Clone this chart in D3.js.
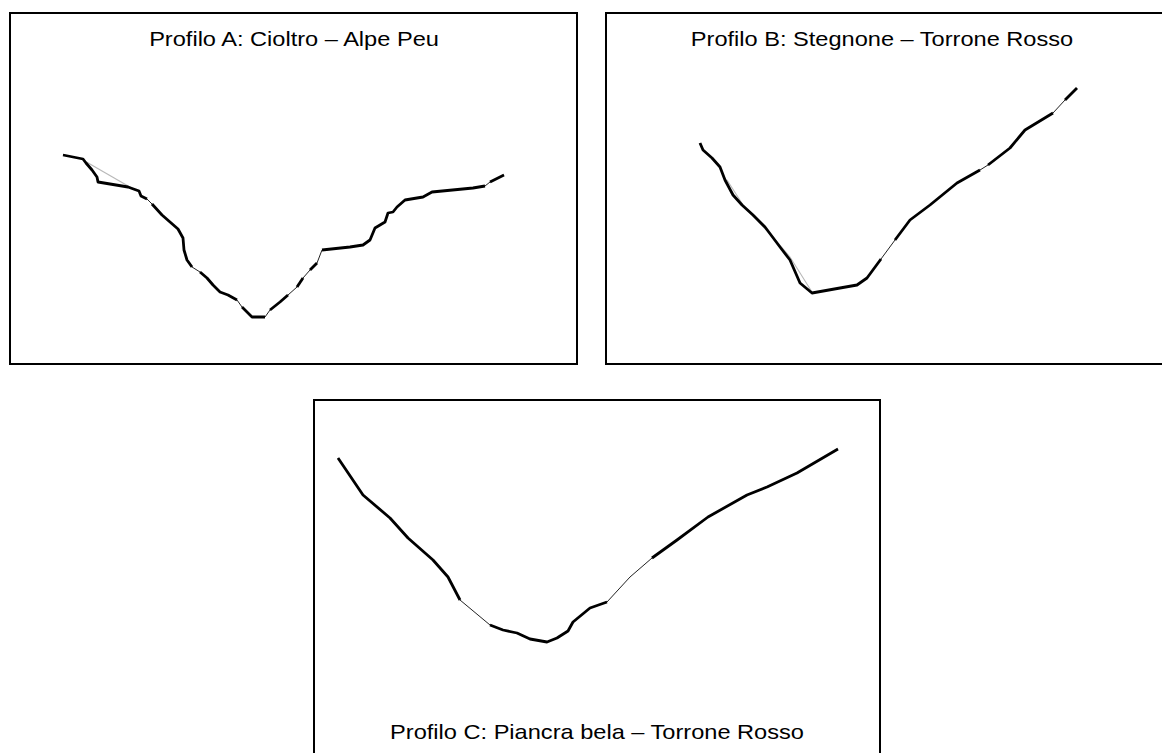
<!DOCTYPE html>
<html>
<head>
<meta charset="utf-8">
<script src="https://cdn.jsdelivr.net/npm/d3@7"></script>
<style>
  html, body { margin: 0; padding: 0; background: #fff; }
  svg { display: block; }
  text { font-family: "Liberation Sans", Arial, sans-serif; }
</style>
</head>
<body>
<svg id="chart" width="1162" height="753"></svg>
<script>
// Cross-valley topographic profiles: [distance (m), elevation (m)]
const titles = [
  "Profilo A: Cioltro – Alpe Peu",
  "Profilo B: Stegnone – Torrone Rosso",
  "Profilo C: Piancra bela – Torrone Rosso"
];

const profileA = [
  [0,1900],[100,1880],[115,1860],[145,1825],[170,1790],[175,1765],[325,1740],[380,1720],
  [390,1695],[420,1680],[445,1655],[495,1600],[535,1565],[575,1530],[600,1485],[605,1425],
  [620,1375],[645,1340],[685,1315],[720,1285],[750,1250],[785,1215],[825,1200],[870,1175],
  [895,1140],[945,1090],[1010,1090],[1035,1125],[1085,1165],[1125,1200],[1170,1240],[1200,1285],
  [1235,1325],[1270,1360],[1295,1425],[1435,1440],[1500,1450],[1535,1475],[1560,1535],[1585,1550],
  [1610,1565],[1625,1610],[1650,1615],[1670,1640],[1710,1675],[1800,1690],[1845,1715],[2050,1735],
  [2110,1745],[2135,1765],[2205,1800]
];
const rockA = [[0,420],[445,645],[685,870],[895,1010],[1035,1125],[1170,1200],[1235,1270],[1295,2110],[2135,2205]];
const guideA = [[100,1875],[230,1800],[360,1725]];

const profileB = [
  [0,2125],[15,2090],[60,2050],[100,2005],[125,1940],[165,1865],[210,1815],[265,1765],
  [325,1705],[400,1605],[450,1540],[500,1425],[560,1375],[700,1400],[785,1415],[835,1450],
  [905,1545],[975,1640],[1050,1740],[1150,1815],[1285,1925],[1400,1990],[1440,2015],[1550,2100],
  [1625,2190],[1765,2275],[1825,2340],[1885,2400]
];
const rockB = [[0,905],[975,1400],[1440,1765],[1825,1885]];
const guideB = [[135,1940],[225,1800],[365,1655],[450,1555],[560,1380]];

const profileC = [
  [0,2255],[125,2070],[260,1955],[350,1855],[475,1745],[550,1660],[610,1545],[760,1420],
  [825,1395],[895,1380],[960,1350],[1045,1335],[1095,1355],[1150,1390],[1175,1435],[1260,1505],
  [1345,1535],[1460,1660],[1570,1755],[1695,1845],[1850,1960],[2045,2070],[2145,2110],[2295,2180],
  [2500,2300]
];
const rockC = [[0,610],[760,1345],[1570,2500]];
const guideC = [];

const svg = d3.select("#chart");

const panels = [
  { title: titles[0], profile: profileA, rock: rockA, guide: guideA,
    box: { x0: 10, y0: 13, x1: 577, y1: 364 }, titleX: 294, titleY: 46,
    xDom: [0, 2205], xRng: [63, 504], yDom: [1090, 1900], yRng: [317, 155] },
  { title: titles[1], profile: profileB, rock: rockB, guide: guideB,
    box: { x0: 606, y0: 13, x1: 1166, y1: 364 }, titleX: 882, titleY: 46,
    xDom: [0, 1885], xRng: [700, 1077], yDom: [1375, 2400], yRng: [293, 88] },
  { title: titles[2], profile: profileC, rock: rockC, guide: guideC,
    box: { x0: 314, y0: 400, x1: 880, y1: 770 }, titleX: 597, titleY: 739,
    xDom: [0, 2500], xRng: [338, 838], yDom: [1335, 2300], yRng: [642, 449] }
];

panels.forEach(p => {
  const g = svg.append("g");
  const x = d3.scaleLinear().domain(p.xDom).range(p.xRng);
  const y = d3.scaleLinear().domain(p.yDom).range(p.yRng);
  const line = d3.line().x(d => x(d[0])).y(d => y(d[1]));

  // frame
  g.append("rect")
    .attr("x", p.box.x0).attr("y", p.box.y0)
    .attr("width", p.box.x1 - p.box.x0).attr("height", p.box.y1 - p.box.y0)
    .attr("fill", "none").attr("stroke", "#000").attr("stroke-width", 2);

  // title (slightly widened lettering)
  g.append("text")
    .attr("transform", `translate(${p.titleX},${p.titleY}) scale(1.18,1)`)
    .attr("text-anchor", "middle")
    .attr("font-size", 20).attr("fill", "#000")
    .text(p.title);

  // smoothed reference trace
  if (p.guide.length) {
    g.append("path").datum(p.guide)
      .attr("d", line).attr("fill", "none")
      .attr("stroke", "#b8b8b8").attr("stroke-width", 1.1);
  }

  // full ground profile
  g.append("path").datum(p.profile)
    .attr("d", line).attr("fill", "none")
    .attr("stroke", "#222").attr("stroke-width", 1)
    .attr("stroke-linejoin", "round");

  // bold stretches along the profile
  p.rock.forEach(([a, b]) => {
    const seg = p.profile.filter(d => d[0] >= a && d[0] <= b);
    if (seg.length < 2) return;
    g.append("path").datum(seg)
      .attr("d", line).attr("fill", "none")
      .attr("stroke", "#000").attr("stroke-width", 2.8)
      .attr("stroke-linejoin", "round").attr("stroke-linecap", "butt");
  });
});
</script>
</body>
</html>
